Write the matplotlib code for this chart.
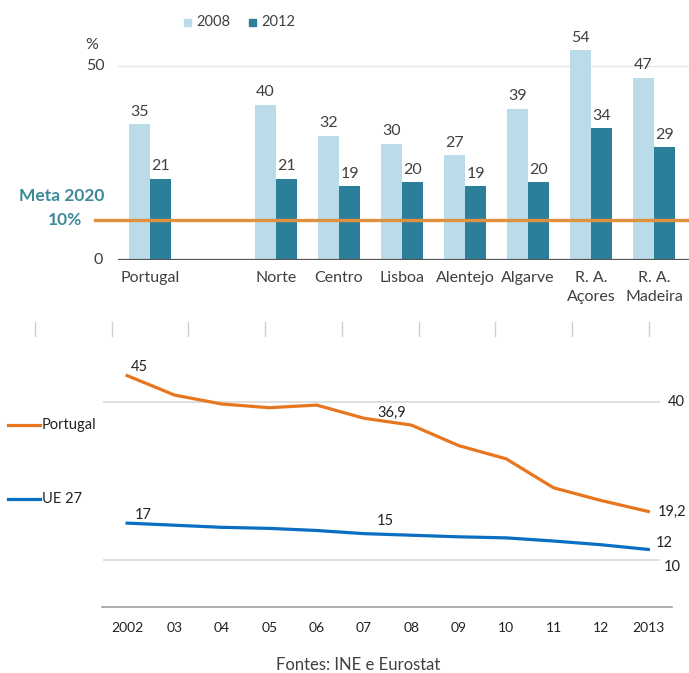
import numpy as np
import matplotlib
matplotlib.use('Agg')
import matplotlib.pyplot as plt
from matplotlib.lines import Line2D

# --- data ---
regions = ['Portugal', 'Norte', 'Centro', 'Lisboa', 'Alentejo', 'Algarve', 'R. A.\nAçores', 'R. A.\nMadeira']
vals_2008 = [35, 40, 32, 30, 27, 39, 54, 47]
vals_2012 = [21, 21, 19, 20, 19, 20, 34, 29]
meta_2020 = 10

years = list(range(2002, 2014))
year_labels = ['2002', '03', '04', '05', '06', '07', '08', '09', '10', '11', '12', '2013']
portugal = [45, 41.3, 39.6, 38.9, 39.4, 36.9, 35.6, 31.7, 29.2, 23.7, 21.3, 19.2]
ue27 = [17, 16.6, 16.2, 16.0, 15.6, 15.0, 14.7, 14.4, 14.2, 13.6, 12.9, 12]

plt.rcParams['font.family'] = ['Lato', 'DejaVu Sans']

W, H = 689, 673
fig = plt.figure(figsize=(W / 100, H / 100), dpi=100)

def fx(px):
    return px / W

def fy(py):
    return 1 - py / H

c08 = '#b9dce8'
c12 = '#2b7f9b'
c_meta = '#e0913f'
c_teal = '#3c8a98'
c_txt = '#404040'
fs_top = 11.5

# --- top: bar chart ---
ax = fig.add_axes([fx(118), fy(260), fx(689 - 118), (260 - 40) / H])
pos = np.array([0] + list(range(2, 9)))
bw = 0.34
b1 = ax.bar(pos - bw / 2, vals_2008, bw, color=c08)
b2 = ax.bar(pos + bw / 2, vals_2012, bw, color=c12)
for bars, vals in [(b1, vals_2008), (b2, vals_2012)]:
    for b, v in zip(bars, vals):
        ax.annotate(str(v), (b.get_x() + b.get_width() / 2, v), xytext=(0, 4),
                    textcoords='offset points', ha='center', va='bottom',
                    fontsize=fs_top, color=c_txt)
ax.set_xlim(-0.508, 8.556)
ax.set_ylim(0, 56.7)
ax.axhline(50, color='#e6e6e6', lw=1, zorder=0)
ax.axhline(0, color='#555555', lw=1.6, zorder=3)
ax.set_xticks(pos)
ax.set_xticklabels(regions, fontsize=fs_top, color=c_txt, linespacing=1.45, va='top')
ax.tick_params(axis='x', length=0, pad=8)
ax.set_yticks([])
for s in ax.spines.values():
    s.set_visible(False)

# meta line spans beyond the axes on the left
fig.add_artist(Line2D([fx(95), fx(689)], [fy(220), fy(220)], color=c_meta, lw=2.4))
fig.text(fx(62), fy(196), 'Meta 2020', ha='center', va='center', fontsize=12.5,
         color=c_teal, fontweight='bold')
fig.text(fx(65), fy(220), f'{meta_2020}%', ha='center', va='center', fontsize=12.5,
         color=c_teal, fontweight='bold')
fig.text(fx(92), fy(45), '%', ha='center', va='center', fontsize=fs_top, color=c_txt)
fig.text(fx(105), fy(66), '50', ha='right', va='center', fontsize=fs_top, color=c_txt)
fig.text(fx(103), fy(260), '0', ha='right', va='center', fontsize=fs_top, color=c_txt)

# legend
fig.add_artist(plt.Rectangle((fx(184), fy(26)), fx(7), 7 / H, color=c08))
fig.text(fx(196), fy(22), '2008', ha='left', va='center', fontsize=10.5, color=c_txt)
fig.add_artist(plt.Rectangle((fx(249), fy(26)), fx(7), 7 / H, color=c12))
fig.text(fx(261), fy(22), '2012', ha='left', va='center', fontsize=10.5, color=c_txt)

# separator ticks
for k in range(9):
    x = 35 + k * 76.7
    fig.add_artist(Line2D([fx(x), fx(x)], [fy(322), fy(336)], color='#d0d0d0', lw=1))

# --- bottom: line chart ---
c_pt = '#e8761f'
c_ue = '#0a6fc2'
ax2 = fig.add_axes([fx(102), fy(607), fx(672 - 102), (607 - 345) / H])
ax2.plot(years, portugal, color=c_pt, lw=2.3)
ax2.plot(years, ue27, color=c_ue, lw=2.3)
ax2.set_xlim(2001.47, 2013.5)
ax2.set_ylim(1.08, 50.8)
ax2.hlines([40, 10], 2001.49, 2013.24, color='#d9d9d9', lw=1.2, zorder=0)
ax2.set_xticks(years)
ax2.set_xticklabels(year_labels, fontsize=10, color='#222222')
ax2.tick_params(axis='x', length=0, pad=11)
ax2.set_yticks([])
for s in ['top', 'right', 'left']:
    ax2.spines[s].set_visible(False)
ax2.spines['bottom'].set_color('#a0a0a0')
ax2.spines['bottom'].set_linewidth(1.2)

ax2.text(2013.42, 40, '40', ha='left', va='center', fontsize=10.5, color='#222222')
ax2.text(2013.33, 10, '10', ha='left', va='top', fontsize=10.5, color='#222222')

def lab(x, y, s, dx, dy, ha='center'):
    ax2.annotate(s, (x, y), xytext=(dx * 0.72, dy * 0.72), textcoords='offset points',
                 ha=ha, va='center', fontsize=10.5, color='#222222')

lab(2002, portugal[0], '45', 12, 9)
lab(2007, portugal[5], '36,9', 28, 5)
lab(2013, portugal[-1], '19,2', 9, 0, ha='left')
lab(2002, ue27[0], '17', 16, 8)
lab(2007, ue27[5], '15', 21, 13)
lab(2013, ue27[-1], '12', 7, 6, ha='left')

# legend for lines
fig.add_artist(Line2D([fx(8), fx(40)], [fy(425), fy(425)], color=c_pt, lw=2.3))
fig.text(fx(42), fy(425), 'Portugal', ha='left', va='center', fontsize=10.5, color='#222222')
fig.add_artist(Line2D([fx(8), fx(40)], [fy(499), fy(499)], color=c_ue, lw=2.3))
fig.text(fx(42), fy(499), 'UE 27', ha='left', va='center', fontsize=10.5, color='#222222')

fig.text(fx(358), fy(665), 'Fontes: INE e Eurostat', ha='center', va='center',
         fontsize=12, color=c_txt)

fig.savefig('out.png', dpi=100, facecolor='white')
